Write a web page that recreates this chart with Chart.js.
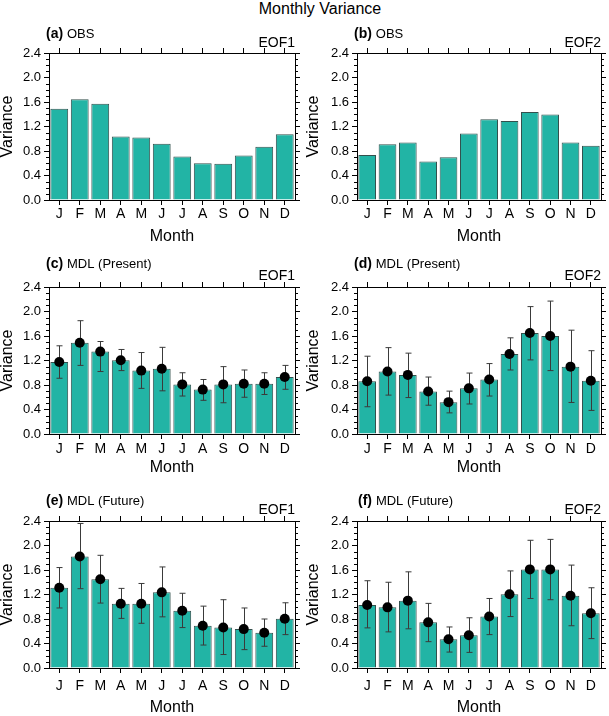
<!DOCTYPE html>
<html>
<head>
<meta charset="utf-8">
<script src="https://cdn.jsdelivr.net/npm/chart.js@4.4.1/dist/chart.umd.min.js"></script>
<style>
  html, body { margin: 0; padding: 0; background: #fff; }
  body { width: 609px; height: 716px; position: relative; overflow: hidden; font-family: "Liberation Sans", Arial, sans-serif; }
  #title { position: absolute; left: 0; top: 0; width: 640px; text-align: center; font-size: 16px; line-height: 18px; color: #000; }
  canvas { position: absolute; }
</style>
</head>
<body>
<div id="title">Monthly Variance</div>
<canvas id="chartA"></canvas>
<canvas id="chartB"></canvas>
<canvas id="chartC"></canvas>
<canvas id="chartD"></canvas>
<canvas id="chartE"></canvas>
<canvas id="chartF"></canvas>
<script>
const months = ['J', 'F', 'M', 'A', 'M', 'J', 'J', 'A', 'S', 'O', 'N', 'D'];
const yMin = 0;
const yMax = 2.4;
const yStep = 0.4;
const yMinorStep = 0.1;

// observed
const obsEof1 = [1.49, 1.645, 1.57, 1.035, 1.02, 0.92, 0.71, 0.60, 0.59, 0.725, 0.87, 1.075];
const obsEof2 = [0.735, 0.91, 0.94, 0.63, 0.70, 1.085, 1.32, 1.29, 1.435, 1.395, 0.94, 0.885];

// model, present
const presEof1 = [1.175, 1.49, 1.345, 1.205, 1.035, 1.065, 0.81, 0.725, 0.81, 0.82, 0.82, 0.93];
const presEof1Hi = [1.44, 1.85, 1.51, 1.38, 1.33, 1.415, 1.00, 0.89, 1.10, 1.045, 1.00, 1.12];
const presEof1Lo = [0.91, 1.12, 1.02, 1.035, 0.745, 0.705, 0.62, 0.55, 0.51, 0.60, 0.645, 0.73];

const presEof2 = [0.86, 1.02, 0.965, 0.695, 0.52, 0.745, 0.89, 1.305, 1.65, 1.60, 1.10, 0.87];
const presEof2Hi = [1.27, 1.41, 1.32, 0.93, 0.70, 0.995, 1.15, 1.57, 2.08, 2.17, 1.695, 1.36];
const presEof2Lo = [0.445, 0.635, 0.595, 0.47, 0.345, 0.49, 0.62, 1.045, 1.21, 1.035, 0.515, 0.385];

// model, future
const futEof1 = [1.31, 1.82, 1.45, 1.05, 1.05, 1.235, 0.935, 0.69, 0.66, 0.635, 0.575, 0.805];
const futEof1Hi = [1.64, 2.36, 1.84, 1.30, 1.38, 1.65, 1.22, 1.01, 1.115, 0.98, 0.80, 1.065];
const futEof1Lo = [0.98, 1.295, 1.06, 0.81, 0.73, 0.835, 0.66, 0.375, 0.22, 0.30, 0.355, 0.545];

const futEof2 = [1.03, 0.99, 1.10, 0.745, 0.47, 0.535, 0.84, 1.205, 1.61, 1.61, 1.18, 0.895];
const futEof2Hi = [1.425, 1.40, 1.57, 1.055, 0.67, 0.82, 1.135, 1.585, 2.085, 2.10, 1.68, 1.31];
const futEof2Lo = [0.655, 0.59, 0.64, 0.43, 0.26, 0.255, 0.545, 0.84, 1.135, 1.115, 0.69, 0.48];

const panels = [
  { id: 'chartA', tag: '(a)', name: 'OBS', eof: 'EOF1', values: obsEof1 },
  { id: 'chartB', tag: '(b)', name: 'OBS', eof: 'EOF2', values: obsEof2 },
  { id: 'chartC', tag: '(c)', name: 'MDL (Present)', eof: 'EOF1', values: presEof1, hi: presEof1Hi, lo: presEof1Lo },
  { id: 'chartD', tag: '(d)', name: 'MDL (Present)', eof: 'EOF2', values: presEof2, hi: presEof2Hi, lo: presEof2Lo },
  { id: 'chartE', tag: '(e)', name: 'MDL (Future)', eof: 'EOF1', values: futEof1, hi: futEof1Hi, lo: futEof1Lo },
  { id: 'chartF', tag: '(f)', name: 'MDL (Future)', eof: 'EOF2', values: futEof2, hi: futEof2Hi, lo: futEof2Lo },
];

// canvas box, plot area and text offsets (page pixels) for each panel
const layouts = {
  chartA: { box: [0, 20, 305, 230], plot: [49, 53, 295, 200], tagY: 34, eofY: 43, tickPad: 2, monthPad: 5, tagX: 46 },
  chartB: { box: [305, 20, 304, 230], plot: [357, 53, 601, 200], tagY: 34, eofY: 43, tickPad: 2, monthPad: 5, tagX: 354 },
  chartC: { box: [0, 250, 305, 230], plot: [49, 287, 295, 434], tagY: 264, eofY: 276, tickPad: 3, monthPad: 4, tagX: 46 },
  chartD: { box: [305, 250, 304, 230], plot: [357, 287, 601, 434], tagY: 264, eofY: 276, tickPad: 3, monthPad: 4, tagX: 354 },
  chartE: { box: [0, 480, 305, 236], plot: [49, 521, 295, 668], tagY: 501, eofY: 510, tickPad: 6, monthPad: 0, tagX: 46 },
  chartF: { box: [305, 480, 304, 236], plot: [357, 521, 601, 668], tagY: 501, eofY: 510, tickPad: 6, monthPad: 0, tagX: 358 },
};

const barFill = '#22b4a5';
const barEdge = '#34504d';
const fontFamily = '"Liberation Sans", Arial, sans-serif';

const decoPlugin = {
  id: 'panelDeco',
  afterDatasetDraw(chart, args, opts) {
    if (args.index !== 0 || !opts.hi) return;
    const ctx = chart.ctx;
    const xs = chart.scales.x;
    const ys = chart.scales.y;
    ctx.save();
    ctx.strokeStyle = '#3a3a3a';
    ctx.lineWidth = 1;
    opts.hi.forEach((hi, i) => {
      const x = Math.round(xs.getPixelForValue(i)) + 0.5;
      const yHi = ys.getPixelForValue(hi);
      const yLo = ys.getPixelForValue(opts.lo[i]);
      ctx.beginPath();
      ctx.moveTo(x, yHi);
      ctx.lineTo(x, yLo);
      ctx.moveTo(x - 3, yHi);
      ctx.lineTo(x + 3, yHi);
      ctx.moveTo(x - 3, yLo);
      ctx.lineTo(x + 3, yLo);
      ctx.stroke();
    });
    ctx.restore();
  },
  afterDraw(chart, args, opts) {
    const ctx = chart.ctx;
    const ys = chart.scales.y;
    const area = chart.chartArea;
    ctx.save();
    // minor ticks on both sides
    ctx.strokeStyle = '#000';
    ctx.lineWidth = 1;
    ctx.beginPath();
    const n = Math.round((yMax - yMin) / yMinorStep);
    for (let k = 0; k <= n; k++) {
      if (k % Math.round(yStep / yMinorStep) === 0) continue;
      const y = Math.round(ys.getPixelForValue(yMin + k * yMinorStep)) + 0.5;
      ctx.moveTo(area.left - 3, y);
      ctx.lineTo(area.left, y);
      ctx.moveTo(area.right, y);
      ctx.lineTo(area.right + 3, y);
    }
    ctx.stroke();
    // panel labels
    ctx.fillStyle = '#000';
    ctx.textBaseline = 'middle';
    ctx.textAlign = 'left';
    ctx.font = 'bold 14px ' + fontFamily;
    ctx.fillText(opts.tag, opts.tagX, opts.tagY);
    const w = ctx.measureText(opts.tag + ' ').width;
    ctx.font = '13px ' + fontFamily;
    ctx.fillText(opts.name, opts.tagX + w, opts.tagY + 0.5);
    ctx.textAlign = 'right';
    ctx.font = '14px ' + fontFamily;
    ctx.fillText(opts.eof, area.right, opts.eofY);
    ctx.restore();
  }
};

panels.forEach((p) => {
  const lay = layouts[p.id];
  const [bx, by, bw, bh] = lay.box;
  const [pl, pt, pr, pb] = lay.plot;
  const canvas = document.getElementById(p.id);
  canvas.width = bw;
  canvas.height = bh;
  canvas.style.left = bx + 'px';
  canvas.style.top = by + 'px';

  const datasets = [{
    type: 'bar',
    data: p.values,
    backgroundColor: barFill,
    borderColor: barEdge,
    borderWidth: 1,
    barPercentage: 0.87,
    categoryPercentage: 1.0,
    order: 2,
  }];
  if (p.hi) {
    datasets.push({
      type: 'line',
      data: p.values,
      showLine: false,
      pointRadius: 5,
      pointBackgroundColor: '#000',
      pointBorderWidth: 0,
      order: 1,
    });
  }

  const tickGrid = { drawOnChartArea: false, drawTicks: true, tickLength: 5, tickColor: '#000', color: '#000' };

  new Chart(canvas, {
    type: 'bar',
    data: { labels: months, datasets },
    plugins: [decoPlugin],
    options: {
      responsive: false,
      animation: false,
      events: [],
      layout: { padding: { left: 0, top: pt - by - 5, right: bx + bw - pr - 5, bottom: 0 } },
      plugins: {
        legend: { display: false },
        tooltip: { enabled: false },
        panelDeco: {
          tag: p.tag, name: p.name, eof: p.eof, hi: p.hi, lo: p.lo,
          tagX: lay.tagX - bx, tagY: lay.tagY - by, eofY: lay.eofY - by,
        },
      },
      scales: {
        x: {
          type: 'category',
          position: 'bottom',
          offset: true,
          grid: { ...tickGrid, offset: false },
          border: { display: true, color: '#000', width: 1 },
          ticks: { color: '#000', padding: lay.tickPad, font: { family: fontFamily, size: 14, lineHeight: 1 }, maxRotation: 0, autoSkip: false },
          title: { display: true, text: 'Month', color: '#000', font: { family: fontFamily, size: 16, lineHeight: 1 }, padding: { top: 0, bottom: lay.monthPad } },
          afterFit: (s) => { s.height = by + bh - pb; },
        },
        x2: {
          type: 'category',
          position: 'top',
          offset: true,
          grid: { ...tickGrid, offset: false },
          border: { display: true, color: '#000', width: 1 },
          ticks: { display: false },
          afterFit: (s) => { s.height = 5; },
        },
        y: {
          type: 'linear',
          position: 'left',
          min: yMin,
          max: yMax,
          grid: tickGrid,
          border: { display: true, color: '#000', width: 1 },
          ticks: { stepSize: yStep, color: '#000', padding: 3, font: { family: fontFamily, size: 13 }, callback: (v) => v.toFixed(1) },
          title: { display: true, text: 'Variance', color: '#000', font: { family: fontFamily, size: 16, lineHeight: 1 }, padding: { top: bx > 0 ? 1 : 0, bottom: 0 } },
          afterFit: (s) => { s.width = pl - bx; },
        },
        y2: {
          type: 'linear',
          position: 'right',
          min: yMin,
          max: yMax,
          grid: tickGrid,
          border: { display: true, color: '#000', width: 1 },
          ticks: { stepSize: yStep, display: false },
          afterFit: (s) => { s.width = 5; },
        },
      },
    },
  });
});
</script>
</body>
</html>
